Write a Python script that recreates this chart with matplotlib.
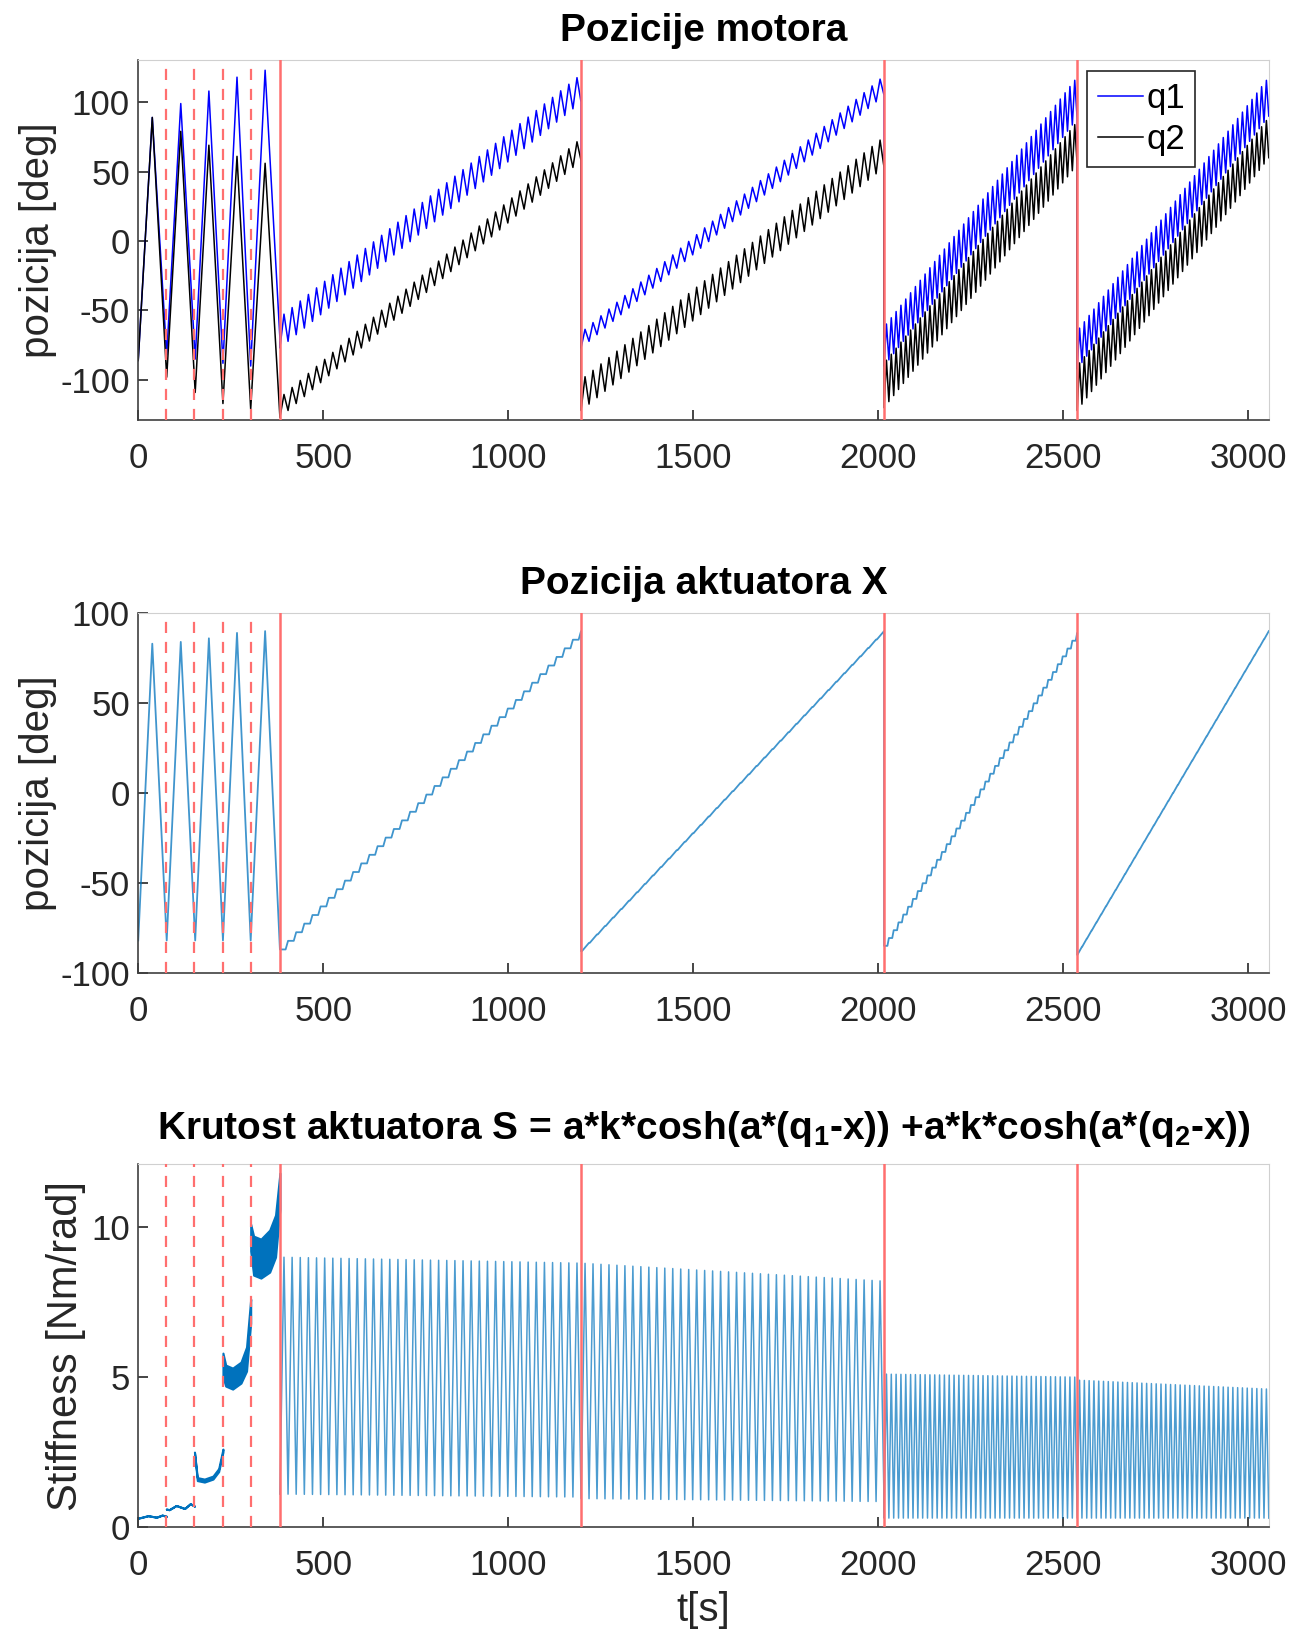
import numpy as np
import matplotlib
matplotlib.use('Agg')
import matplotlib.pyplot as plt

plt.rcParams['font.family'] = ['Liberation Sans', 'DejaVu Sans']
plt.rcParams['mathtext.fontset'] = 'custom'
plt.rcParams['mathtext.rm'] = 'Liberation Sans'
plt.rcParams['mathtext.bf'] = 'Liberation Sans:bold'
plt.rcParams['axes.unicode_minus'] = False

# granice eksperimenata (crvene linije)
t_dashed = [76, 152, 229, 304]
t_solid = [383, 1197, 2016, 2538]
t_end = 3056

# kalibracija (0 - 383 s): vrhovi trokutastog signala
cal_t = [0, 38, 77, 115, 154, 191, 229, 267, 304, 343, 383]
cal_q1 = [-86, 89, -82, 99, -85, 108, -88, 118, -90, 123, -70]
cal_q2 = [-86, 89, -98, 79, -109, 69, -117, 61, -121, 56, -127]
cal_x = [-82, 83, -82, 84, -82, 86, -82, 89, -82, 90, -86]

# glavni segmenti
seg_t0 = [383, 1197, 2016, 2538]
seg_t1 = [1197, 2016, 2538, 3056]
seg_cycles = [37, 38, 40, 40]

q1_lo_start = [-77, -77, -90, -92]
q1_lo_end = [100, 105, 88, 90]
q1_hi_start = [-55, -66, -62, -65]
q1_hi_end = [120, 119, 118, 118]

q2_lo_start = [-127, -122, -120, -122]
q2_lo_end = [58, 53, 55, 60]
q2_hi_start = [-113, -100, -88, -90]
q2_hi_end = [74, 75, 86, 89]

x_start = [-87, -88, -85, -90]
x_end = [90, 90, 89, 90]
x_hold = [0.7, 0.1, 0.7, 0.05]

# krutost - kalibracija (gornja / donja ovojnica)
s_cal_frac = [0, 0.1, 0.35, 0.65, 0.85, 1.0]
s_cal_t0 = [0, 76, 152, 229, 304]
s_cal_t1 = [76, 152, 229, 304, 383]
s_cal_hi = [[0.3, 0.32, 0.38, 0.33, 0.4, 0.36],
            [0.6, 0.58, 0.72, 0.62, 0.78, 0.7],
            [2.5, 1.65, 1.6, 1.7, 1.95, 2.6],
            [5.8, 5.4, 5.3, 5.5, 6.0, 7.6],
            [10.1, 9.7, 9.6, 9.9, 10.4, 11.8]]
s_cal_lo = [[0.3, 0.32, 0.38, 0.33, 0.4, 0.36],
            [0.6, 0.58, 0.72, 0.62, 0.78, 0.7],
            [2.5, 1.55, 1.5, 1.6, 1.85, 2.5],
            [5.0, 4.7, 4.6, 4.8, 5.2, 6.8],
            [9.2, 8.4, 8.3, 8.5, 9.0, 10.6]]

s_lo_start = [1.1, 0.95, 0.3, 0.3]
s_lo_end = [1.0, 0.85, 0.3, 0.3]
s_hi_start = [9.0, 8.8, 5.1, 4.9]
s_hi_end = [8.8, 8.2, 5.0, 4.6]


def zigzag(t0, t1, n, lo0, lo1, hi0, hi1):
    t = np.linspace(t0, t1, 2 * n + 1)
    f = (t - t0) / (t1 - t0)
    lo = lo0 + (lo1 - lo0) * f
    hi = hi0 + (hi1 - hi0) * f
    y = np.where(np.arange(len(t)) % 2 == 0, lo, hi)
    return t, y


def stairs(t0, t1, n, v0, v1, hold):
    tt, yy = [], []
    edges = np.linspace(t0, t1, n + 1)
    vals = np.linspace(v0, v1, n + 1)
    for i in range(n):
        tt += [edges[i], edges[i] + hold * (edges[i + 1] - edges[i])]
        yy += [vals[i], vals[i]]
    tt.append(edges[-1])
    yy.append(vals[-1])
    return np.array(tt), np.array(yy)


def build(lo0, lo1, hi0, hi1, cal_y):
    ts, ys = [np.array(cal_t, float)], [np.array(cal_y, float)]
    for i in range(4):
        t, y = zigzag(seg_t0[i], seg_t1[i], seg_cycles[i], lo0[i], lo1[i], hi0[i], hi1[i])
        ts.append(t)
        ys.append(y)
    return np.concatenate(ts), np.concatenate(ys)


t_q1, q1 = build(q1_lo_start, q1_lo_end, q1_hi_start, q1_hi_end, cal_q1)
t_q2, q2 = build(q2_lo_start, q2_lo_end, q2_hi_start, q2_hi_end, cal_q2)

ts, ys = [np.array(cal_t, float)], [np.array(cal_x, float)]
for i in range(4):
    t, y = stairs(seg_t0[i], seg_t1[i], seg_cycles[i], x_start[i], x_end[i], x_hold[i])
    ts.append(t)
    ys.append(y)
t_x, x = np.concatenate(ts), np.concatenate(ys)

ts, ys = [], []
for i in range(4):
    t, y = zigzag(seg_t0[i], seg_t1[i], seg_cycles[i], s_lo_start[i], s_lo_end[i],
                  s_hi_start[i], s_hi_end[i])
    ts.append(t)
    ys.append(y)
t_s, s = np.concatenate(ts), np.concatenate(ys)

red = '#ff6f6f'
blue = '#0072BD'


def style(ax, ylim, yticks):
    ax.set_xlim(0, t_end)
    ax.set_ylim(*ylim)
    ax.set_yticks(yticks)
    ax.set_xticks([0, 500, 1000, 1500, 2000, 2500, 3000])
    ax.tick_params(direction='in', length=7, width=1.2, labelsize=25,
                   colors='#262626', top=False, right=False)
    ax.tick_params(axis='x', pad=16)
    ax.tick_params(axis='y', pad=6)
    for sp in ['top', 'right']:
        ax.spines[sp].set_color('#d0d0d0')
    for sp in ['left', 'bottom']:
        ax.spines[sp].set_color('#404040')
        ax.spines[sp].set_linewidth(1.2)


def vlines(ax):
    for t in t_dashed:
        ax.axvline(t, color=red, lw=1.6, ls=(0, (5, 4)), zorder=3)
    for t in t_solid:
        ax.axvline(t, color=red, lw=1.8, zorder=3)


fig = plt.figure(figsize=(13.04, 16.35), dpi=100)
ax1 = fig.add_axes([0.106, 0.743, 0.867, 0.220])
ax2 = fig.add_axes([0.106, 0.405, 0.867, 0.220])
ax3 = fig.add_axes([0.106, 0.066, 0.867, 0.222])

# pozicije motora
ax1.plot(t_q1, q1, color='#0000ff', lw=1.1, label='q1')
ax1.plot(t_q2, q2, color='black', lw=1.1, label='q2')
vlines(ax1)
style(ax1, (-129, 130), [-100, -50, 0, 50, 100])
ax1.set_ylabel('pozicija [deg]', fontsize=29, color='#262626', labelpad=2)
ax1.set_title('Pozicije motora', fontsize=28, fontweight='bold', pad=14)
leg = ax1.legend(loc='upper right', bbox_to_anchor=(0.935, 0.97), fontsize=25,
                 handlelength=1.3, handletextpad=0.1, borderpad=0.3,
                 labelspacing=0.25, fancybox=False, framealpha=1, borderaxespad=0)
leg.get_frame().set_edgecolor('#262626')
leg.get_frame().set_linewidth(1.2)

# pozicija aktuatora
ax2.plot(t_x, x, color=blue, lw=1.3, alpha=0.75)
vlines(ax2)
style(ax2, (-100, 100), [-100, -50, 0, 50, 100])
ax2.set_ylabel('pozicija [deg]', fontsize=29, color='#262626', labelpad=2)
ax2.set_title('Pozicija aktuatora X', fontsize=28, fontweight='bold', pad=14)

# krutost
for i in range(5):
    tt = [s_cal_t0[i] + f * (s_cal_t1[i] - s_cal_t0[i]) for f in s_cal_frac]
    ax3.fill_between(tt, s_cal_lo[i], s_cal_hi[i], color=blue, lw=1.5)
ax3.plot(t_s, s, color=blue, lw=1.1, alpha=0.7)
vlines(ax3)
style(ax3, (0, 12.1), [0, 5, 10])
ax3.set_ylabel('Stiffness [Nm/rad]', fontsize=30, color='#262626', labelpad=4)
ax3.set_xlabel('t[s]', fontsize=29, color='#262626', labelpad=6)
ax3.set_title(r'Krutost aktuatora S = a*k*cosh(a*(q$_{\mathbf{1}}$-x)) +a*k*cosh(a*(q$_{\mathbf{2}}$-x))',
              fontsize=28, fontweight='bold', pad=18)

fig.savefig('out.png', dpi=100)
